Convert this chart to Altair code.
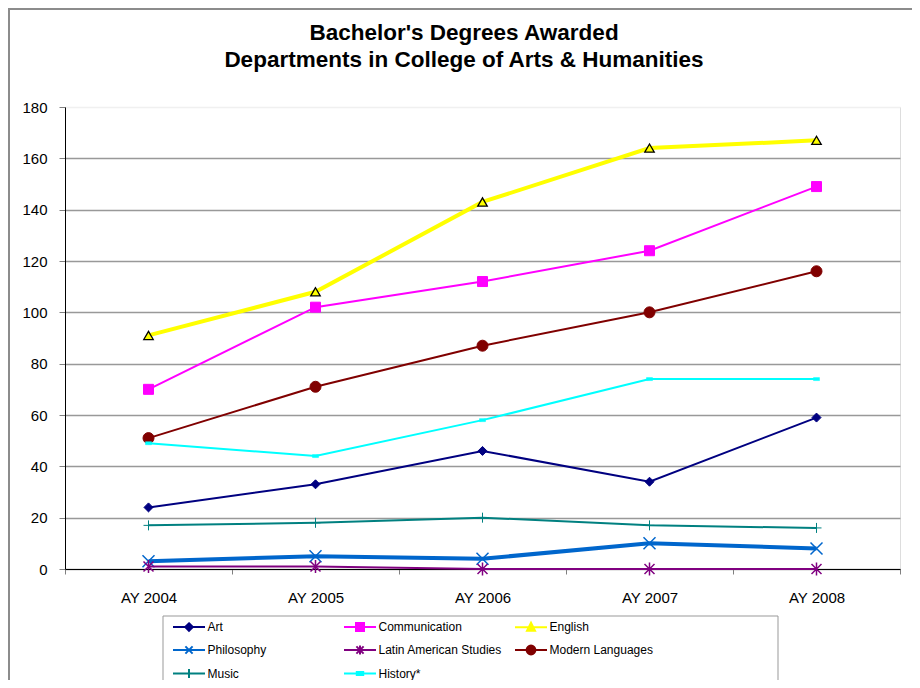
import altair as alt
import pandas as pd

# ---- data ----
years = ["AY 2004", "AY 2005", "AY 2006", "AY 2007", "AY 2008"]
departments = ["Art", "Communication", "English", "Philosophy",
               "Latin American Studies", "Modern Languages", "Music", "History*"]
art = [24, 33, 46, 34, 59]
communication = [70, 102, 112, 124, 149]
english = [91, 108, 143, 164, 167]
philosophy = [3, 5, 4, 10, 8]
latin_american = [1, 1, 0, 0, 0]
modern_languages = [51, 71, 87, 100, 116]
music = [17, 18, 20, 17, 16]
history = [49, 44, 58, 74, 74]
y_ticks = [0, 20, 40, 60, 80, 100, 120, 140, 160, 180]

series = [art, communication, english, philosophy, latin_american,
          modern_languages, music, history]
rows = []
for d, vals in zip(departments, series):
    for yr, v in zip(years, vals):
        rows.append({"dept": d, "year": yr, "value": v})
df = pd.DataFrame(rows)

# ---- styles ----
colors = ["#000080", "#FF00FF", "#FFFF00", "#0066CC",
          "#800080", "#800000", "#008080", "#00FFFF"]
line_widths = [2, 2, 4, 4, 2, 2, 2, 2]
marker_styles = [
    dict(shape="diamond", size=81, filled=True, fill="#000080", stroke="#000080", strokeWidth=1),
    dict(shape="square", size=100, filled=True, fill="#FF00FF", stroke="#FF00FF", strokeWidth=1),
    dict(shape="triangle-up", size=90, filled=True, fill="#FFFF00", stroke="#000000", strokeWidth=1.3),
    dict(shape="M-1,-1L1,1M1,-1L-1,1", size=144, filled=False, stroke="#0066CC", strokeWidth=1.5),
    dict(shape="M-1,-1L1,1M1,-1L-1,1M0,-1.3V1.3", size=100, filled=False, stroke="#800080", strokeWidth=1.5),
    dict(shape="circle", size=121, filled=True, fill="#800000", stroke="#800000", strokeWidth=1),
    dict(shape="M-1,0H1M0,-1V1", size=100, filled=False, stroke="#008080", strokeWidth=1),
    dict(shape="M-1,-0.5H1V0.5H-1Z", size=36, filled=True, fill="#00FFFF", stroke="#00FFFF", strokeWidth=0.5),
]
legend_paths = [
    "M-4,0H4M0,-0.95L0.95,0L0,0.95L-0.95,0Z",
    "M-4,0H4M-1,-1H1V1H-1Z",
    "M-4,0H4M0,-1.1L1,0.9H-1Z",
    "M-4,0H4M-0.9,-0.9L0.9,0.9M0.9,-0.9L-0.9,0.9",
    "M-4,0H4M-0.9,-0.9L0.9,0.9M0.9,-0.9L-0.9,0.9M0,-1.1V1.1",
    "M-4,0H4M1.1,0A1.1,1.1,0,1,1,-1.1,0A1.1,1.1,0,1,1,1.1,0Z",
    "M-4,0H4M0,-1.1V1.1",
    "M-4,0H4M-0.8,-0.35H0.8V0.35H-0.8Z",
]

FONT = "Liberation Sans"
W, H = 835, 462

x_enc = alt.X(
    "year:N", sort=years,
    scale=alt.Scale(type="band", domain=years, paddingInner=0, paddingOuter=0),
    axis=alt.Axis(title=None, labelAngle=0, tickBand="extent", tickSize=5,
                  tickColor="#808080", domainColor="#000000", labelPadding=16,
                  labelFontSize=15, labelColor="#000000", labelFont=FONT, grid=False),
)
y_enc = alt.Y(
    "value:Q",
    scale=alt.Scale(domain=[0, 180], nice=False, zero=True),
    axis=alt.Axis(title=None, values=y_ticks, grid=True,
                  gridColor={"condition": {"test": "datum.value == 180", "value": "#f0f0f0"},
                             "value": "#999999"},
                  gridWidth=1.5, tickColor="#808080", tickSize=6, labelPadding=12,
                  domainColor="#000000", labelFontSize=15, labelColor="#000000",
                  labelFont=FONT),
)

layers = []
for i, d in enumerate(departments):
    base = alt.Chart(df).transform_filter(alt.datum.dept == d)
    layers.append(base.mark_line(color=colors[i], strokeWidth=line_widths[i]).encode(x=x_enc, y=y_enc))
    layers.append(base.mark_point(opacity=1, **marker_styles[i]).encode(x=x_enc, y=y_enc))

leg = alt.Legend(
    title=None, orient="none", legendX=98, legendY=504.5, columns=3, direction="horizontal",
    gridAlign="all",
    symbolSize=64, symbolOffset=11, labelOffset=12.5, labelFontSize=12, labelFont=FONT,
    labelColor="#000000", padding=9, strokeColor="transparent",
    rowPadding=5.5, columnPadding=9, symbolStrokeWidth=2, labelLimit=0,
)
legend_layer = alt.Chart(df).transform_filter("datum.value < 0").mark_point(
    strokeWidth=2, opacity=1
).encode(
    x=x_enc, y=y_enc,
    fill=alt.Fill("dept:N", sort=departments,
                  scale=alt.Scale(domain=departments, range=colors), legend=leg),
    stroke=alt.Stroke("dept:N", sort=departments,
                      scale=alt.Scale(domain=departments, range=colors), legend=leg),
    shape=alt.Shape("dept:N", sort=departments,
                    scale=alt.Scale(domain=departments, range=legend_paths), legend=leg),
)

one = alt.Data(values=[{"k": 0}])
legend_box = alt.Chart(one).mark_rect(fill="#FFFFFF", stroke="#999999", strokeWidth=1).encode(
    x=alt.value(98), x2=alt.value(713), y=alt.value(509), y2=alt.value(578))
border_left = alt.Chart(one).mark_rule(color="#8c8c8c", strokeWidth=2).encode(
    x=alt.value(-56), y=alt.value(-99), y2=alt.value(H + 130))
border_top = alt.Chart(one).mark_rule(color="#8c8c8c", strokeWidth=2).encode(
    x=alt.value(-57), x2=alt.value(W + 30), y=alt.value(-98))

chart = alt.layer(*layers, legend_box, legend_layer, border_left, border_top).properties(
    width=W, height=H,
    autosize="none",
    padding={"left": 57, "top": 99, "right": 12, "bottom": 111},
    title=alt.TitleParams(
        text=["Bachelor's Degrees Awarded", "Departments in College of Arts & Humanities"],
        fontSize=22.5, font=FONT, fontWeight="bold", color="#000000",
        anchor="middle", dx=-18.5, offset=-64.5, lineHeight=27,
    ),
).configure_view(stroke=None).configure(background="#FFFFFF")

chart.save("out.html", embed_options={"renderer": "svg", "actions": False})
